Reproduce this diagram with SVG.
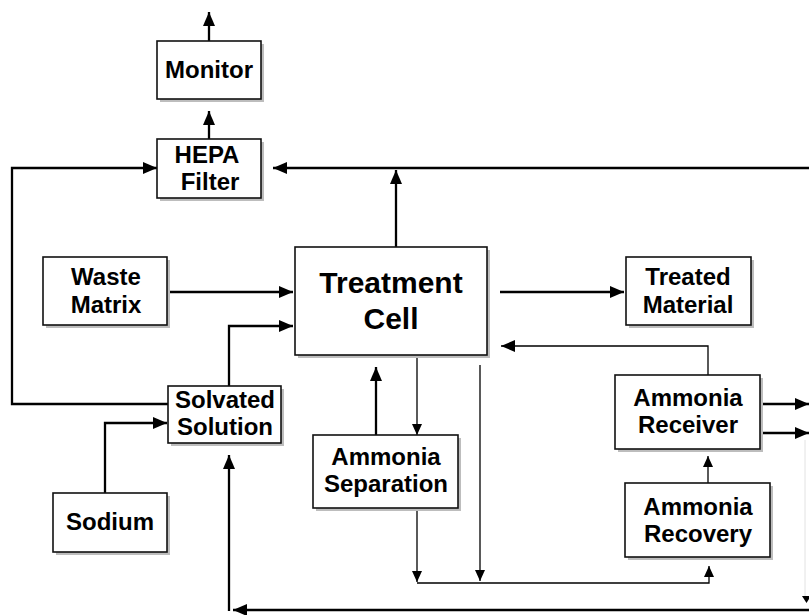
<svg xmlns="http://www.w3.org/2000/svg" width="809" height="615" viewBox="0 0 809 615">
<style>
.box{fill:#fff;stroke:#111;stroke-width:1.6}
.sh{fill:#bdbdbd}
.t{font-family:"Liberation Sans",Arial,sans-serif;font-weight:bold;font-size:24px;fill:#000;text-anchor:middle}
.big{font-size:30px}
.c{fill:none;stroke:#000;stroke-width:2.3}
.thin{fill:none;stroke:#000;stroke-width:1.3}
</style>
<defs>
<marker id="ah" markerUnits="userSpaceOnUse" markerWidth="14" markerHeight="12" refX="14" refY="6" orient="auto"><path d="M0,0 L14,6 L0,12 z" fill="#000"/></marker>
<marker id="as" markerUnits="userSpaceOnUse" markerWidth="11" markerHeight="10" refX="11" refY="5" orient="auto"><path d="M0,0 L11,5 L0,10 z" fill="#000"/></marker>
</defs>
<rect width="809" height="615" fill="#fff"/>
<g id="connectors">
<path class="c" d="M209,41 V12" marker-end="url(#ah)"/>
<path class="c" d="M209,139 V111" marker-end="url(#ah)"/>
<path class="c" d="M168,404 H12 V168 H157" marker-end="url(#ah)"/>
<path class="c" d="M809,168 H273" marker-end="url(#ah)"/>
<path class="c" d="M396,247 V170" marker-end="url(#ah)"/>
<path class="c" d="M167,292 H293" marker-end="url(#ah)"/>
<path class="c" d="M229,386 V326 H293" marker-end="url(#ah)"/>
<path class="c" d="M105,493 V423 H167" marker-end="url(#ah)"/>
<path class="c" d="M809,610 H233" marker-end="url(#ah)"/>
<path class="c" d="M229,611 V455" marker-end="url(#ah)"/>
<path class="c" d="M376,435 V367" marker-end="url(#ah)"/>
<path class="c" d="M500,292 H624" marker-end="url(#ah)"/>
<path class="thin" d="M417,355 V435" marker-end="url(#as)"/>
<path class="thin" d="M417,508 V582" marker-end="url(#as)"/>
<path class="thin" d="M417,583 H709 V566" marker-end="url(#as)"/>
<path class="thin" d="M480,365 V581" marker-end="url(#as)"/>
<path class="thin" d="M708,375 V346 H501" marker-end="url(#ah)"/>
<path class="c" d="M763,404 H809" marker-end="url(#ah)"/>
<path class="c" d="M763,433 H809" marker-end="url(#ah)"/>
<path class="thin" d="M708,483 V456" marker-end="url(#as)"/>
<path d="M805,440 V596" fill="none" stroke="#e2e2e2" stroke-width="1"/>
<path d="M802,596 L811,596 L806.5,603 z" fill="#000"/>
</g>
<g id="monitor"><rect class="sh" x="160" y="44" width="104" height="58"/><rect class="box" x="157" y="41" width="104" height="58"/><text class="t" x="209" y="78">Monitor</text></g>
<g id="hepa"><rect class="sh" x="160" y="142" width="104" height="59"/><rect class="box" x="157" y="139" width="104" height="59"/><text class="t" x="207" y="163">HEPA</text><text class="t" x="210" y="190">Filter</text></g>
<g id="treatment"><rect class="sh" x="298" y="250" width="192" height="108"/><rect class="box" x="295" y="247" width="192" height="108"/><text class="t big" x="391" y="293">Treatment</text><text class="t big" x="391" y="329">Cell</text></g>
<g id="waste"><rect class="sh" x="46" y="260" width="124" height="68"/><rect class="box" x="43" y="257" width="124" height="68"/><text class="t" x="106" y="285">Waste</text><text class="t" x="106" y="313">Matrix</text></g>
<g id="treated"><rect class="sh" x="629" y="260" width="125" height="68"/><rect class="box" x="626" y="257" width="125" height="68"/><text class="t" x="688" y="285">Treated</text><text class="t" x="688" y="313">Material</text></g>
<g id="solvated"><rect class="sh" x="171" y="389" width="113" height="57"/><rect class="box" x="168" y="386" width="113" height="57"/><text class="t" x="225" y="408">Solvated</text><text class="t" x="225" y="435">Solution</text></g>
<g id="sodium"><rect class="sh" x="56" y="496" width="114" height="59"/><rect class="box" x="53" y="493" width="114" height="59"/><text class="t" x="110" y="530">Sodium</text></g>
<g id="separation"><rect class="sh" x="316" y="438" width="145" height="73"/><rect class="box" x="313" y="435" width="145" height="73"/><text class="t" x="386" y="465">Ammonia</text><text class="t" x="386" y="492">Separation</text></g>
<g id="receiver"><rect class="sh" x="618" y="378" width="145" height="74"/><rect class="box" x="615" y="375" width="145" height="74"/><text class="t" x="688" y="406">Ammonia</text><text class="t" x="688" y="433">Receiver</text></g>
<g id="recovery"><rect class="sh" x="628" y="486" width="145" height="74"/><rect class="box" x="625" y="483" width="145" height="74"/><text class="t" x="698" y="515">Ammonia</text><text class="t" x="698" y="542">Recovery</text></g>
</svg>
